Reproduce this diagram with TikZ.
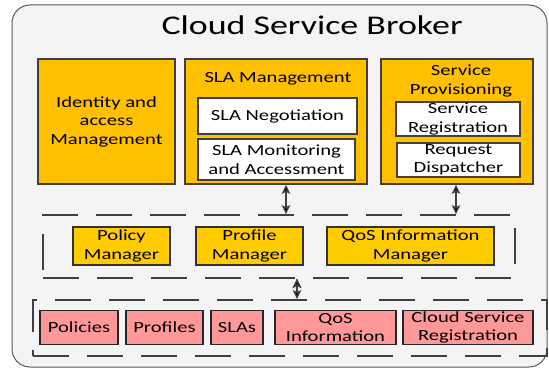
\documentclass[tikz,border=0pt]{standalone}
\usepackage{fontspec}
\setmainfont{Carlito}[FakeStretch=1.33]
\usetikzlibrary{arrows.meta}
\usetikzlibrary{calc}
\definecolor{slaorange}{HTML}{FFC000}
\definecolor{mgryellow}{HTML}{FFCC00}
\definecolor{storepink}{HTML}{FF9999}
\definecolor{edgegray}{HTML}{404040}
\definecolor{panelgray}{HTML}{F4F4F4}

\begin{document}
\begin{tikzpicture}[x=1pt,y=-1pt,>={Stealth[length=9pt,width=8.5pt,inset=2pt]},
  every node/.style={font=\fontsize{15.5}{18.5}\selectfont,align=center,inner sep=0pt},
  big box/.style={rectangle,draw=edgegray,line width=1.6pt,fill=slaorange,minimum height=125pt},
  sub box/.style={rectangle,draw=edgegray,line width=1.6pt,fill=white},
  mgr box/.style={rectangle,draw=black!80,line width=1.4pt,fill=mgryellow,minimum height=38pt},
  data box/.style={rectangle,draw=black!85,line width=1.4pt,fill=storepink,minimum height=34pt},
  zone/.style={rectangle,draw=edgegray,line width=1.8pt,dash pattern=on 36pt off 18pt},
  link/.style={<->,draw=edgegray,line width=1.3pt}]

  \useasboundingbox (0,0) rectangle (549,369);
  \draw[rounded corners=18pt,fill=panelgray,draw=gray!70!black,line width=1pt] (12,5) rectangle (547,367);

  \node[font=\fontsize{27}{32}\selectfont,anchor=base] (title) at (312,35) {Cloud Service Broker};

  % upper row
  \node[big box,minimum width=137pt] (iam) at (106.5,121.5) {Identity and\\access\\Management};
  \node[big box,minimum width=182pt] (slam) at (276,121.5) {};
  \node[big box,minimum width=152pt] (sprov) at (457,121.5) {};
  \node[anchor=base] (slamlbl) at (278,83) {SLA Management};
  \node (sprovlbl) at (461,81) {Service\\Provisioning};
  \node[sub box,minimum width=159pt,minimum height=36pt] (slaneg) at (277.5,116) {SLA Negotiation};
  \node[sub box,minimum width=157pt,minimum height=41pt] (slamon) at (276.5,159.5) {SLA Monitoring\\and Accessment};
  \node[sub box,minimum width=124pt,minimum height=34pt] (sreg) at (458,119) {Service\\Registration};
  \node[sub box,minimum width=123pt,minimum height=34pt] (reqd) at (458.5,160) {Request\\Dispatcher};

  % managers
  \node[zone,minimum width=472pt,minimum height=63pt] (midzone) at (279,246.5) {};
  \node[mgr box,minimum width=97pt] (polm) at (121.5,246) {Policy\\Manager};
  \node[mgr box,minimum width=107pt] (profm) at (249.5,246) {Profile\\Manager};
  \node[mgr box,minimum width=167pt] (qosm) at (410.5,246) {QoS Information\\Manager};

  % repositories
  \node[zone,minimum width=514pt,minimum height=56pt] (lowzone) at (290,328) {};
  \node[data box,minimum width=78pt] (pol) at (79,327.5) {Policies};
  \node[data box,minimum width=77pt] (prof) at (164.5,327.5) {Profiles};
  \node[data box,minimum width=52pt] (slas) at (237,327.5) {SLAs};
  \node[data box,minimum width=121pt] (qosi) at (335.5,327.5) {QoS\\Information};
  \node[data box,minimum width=130pt] (csr) at (468,327.5) {Cloud Service\\Registration};

  \coordinate (a1) at ([xshift=10pt]slam.south);
  \coordinate (a2) at ([xshift=-1pt]sprov.south);
  \coordinate (a3) at ([xshift=18pt]midzone.south);
  \path[link]
    (a1) edge (a1 |- midzone.north)
    (a2) edge (a2 |- midzone.north)
    (a3) edge (a3 |- lowzone.north);
\end{tikzpicture}
\end{document}
